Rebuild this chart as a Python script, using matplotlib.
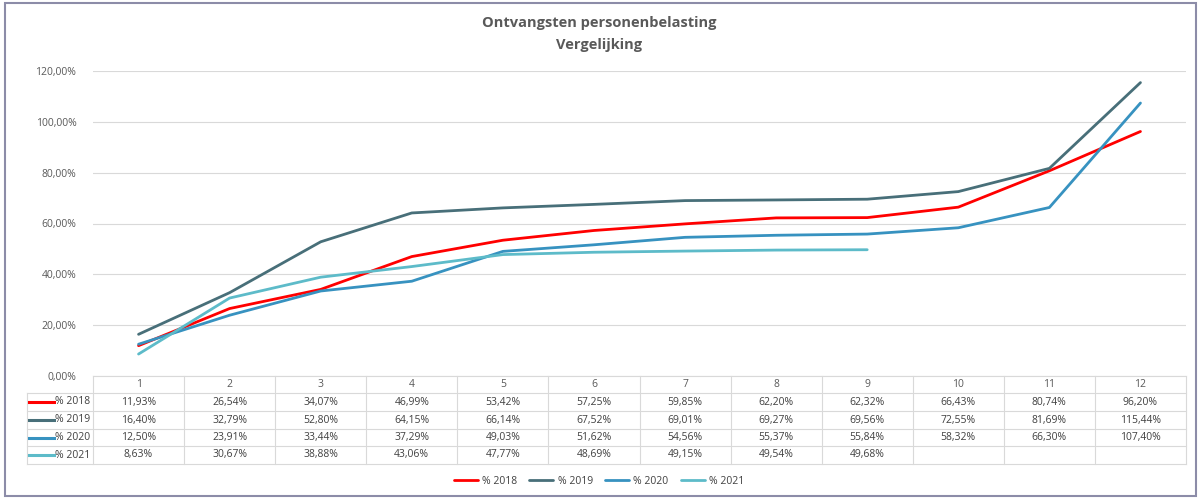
import matplotlib.pyplot as plt
import matplotlib.transforms as mtransforms
from matplotlib.patches import Rectangle
from matplotlib.ticker import FuncFormatter
from matplotlib.lines import Line2D

plt.rcParams['font.family'] = ['Open Sans', 'DejaVu Sans']

# data (percentages)
months = [1, 2, 3, 4, 5, 6, 7, 8, 9, 10, 11, 12]
pct_2018 = [11.93, 26.54, 34.07, 46.99, 53.42, 57.25, 59.85, 62.20, 62.32, 66.43, 80.74, 96.20]
pct_2019 = [16.40, 32.79, 52.80, 64.15, 66.14, 67.52, 69.01, 69.27, 69.56, 72.55, 81.69, 115.44]
pct_2020 = [12.50, 23.91, 33.44, 37.29, 49.03, 51.62, 54.56, 55.37, 55.84, 58.32, 66.30, 107.40]
pct_2021 = [8.63, 30.67, 38.88, 43.06, 47.77, 48.69, 49.15, 49.54, 49.68]
labels = ['% 2018', '% 2019', '% 2020', '% 2021']
colors = ['#FF0000', '#486F79', '#3792C0', '#5DBBC9']
series = [pct_2018, pct_2019, pct_2020, pct_2021]

W, H = 1198, 499
fig = plt.figure(figsize=(W / 100, H / 100), dpi=100)

# outer frame
fig.patches.append(Rectangle((5 / W, 3 / H), 1191 / W, 493 / H, transform=fig.transFigure,
                             fill=False, edgecolor='#8C8CA8', linewidth=1.5))

left, right, top, bottom = 93, 1186, 71, 376
ax = fig.add_axes([left / W, 1 - bottom / H, (right - left) / W, (bottom - top) / H])

for vals, lab, col in zip(series, labels, colors):
    ax.plot(months[:len(vals)], [v / 100 for v in vals], color=col, lw=2.0, label=lab,
            solid_capstyle='round')

ax.set_xlim(0.5, 12.5)
ax.set_ylim(0, 1.2)
ax.set_yticks([0, 0.2, 0.4, 0.6, 0.8, 1.0, 1.2])
ax.yaxis.set_major_formatter(FuncFormatter(lambda v, p: f'{v * 100:.2f}%'.replace('.', ',')))
ax.tick_params(axis='y', length=0, labelsize=7.5, labelcolor='#595959', pad=12)
ax.tick_params(axis='x', length=0, labelbottom=False)
ax.grid(axis='y', color='#D9D9D9', lw=0.8)
ax.set_axisbelow(True)
for s in ax.spines.values():
    s.set_visible(False)

# title
fig.text(0.5, 1 - 34 / H, 'Ontvangsten personenbelasting\nVergelijking', ha='center', va='center',
         fontsize=10.5, fontweight='bold', color='#595959', linespacing=1.75)

# data table below the axis
trans = mtransforms.blended_transform_factory(ax.transData, fig.transFigure)
row_edges = [376, 393, 411, 429, 446, 464]
gc = '#D9D9D9'
def fy(y):
    return 1 - y / H

# horizontal lines
ax.add_line(Line2D([0.5, 12.5], [fy(row_edges[0])] * 2, transform=trans, color=gc, lw=0.8, clip_on=False))
for y in row_edges[1:]:
    fig.add_artist(Line2D([27 / W, right / W], [fy(y)] * 2, color=gc, lw=0.8))
# vertical lines
for i in range(13):
    ax.add_line(Line2D([i + 0.5] * 2, [fy(row_edges[0]), fy(row_edges[-1])], transform=trans,
                       color=gc, lw=0.8, clip_on=False))
fig.add_artist(Line2D([27 / W] * 2, [fy(row_edges[1]), fy(row_edges[-1])], color=gc, lw=0.8))

for m in months:
    ax.text(m, fy((row_edges[0] + row_edges[1]) / 2), str(m), transform=trans, ha='center',
            va='center', fontsize=7.5, color='#595959')
for r, (vals, lab, col) in enumerate(zip(series, labels, colors)):
    yc = fy((row_edges[r + 1] + row_edges[r + 2]) / 2)
    for m, v in zip(months, vals):
        ax.text(m, yc, f'{v:.2f}%'.replace('.', ','), transform=trans, ha='center', va='center',
                fontsize=7.5, color='#404040')
    fig.add_artist(Line2D([29 / W, 54 / W], [yc, yc], color=col, lw=2.2))
    fig.text(55 / W, yc, lab, ha='left', va='center', fontsize=7.5, color='#404040')

# legend
leg = fig.legend(loc='center', bbox_to_anchor=(0.5, fy(481)), ncol=4, frameon=False,
                 fontsize=7.5, handlelength=2.3, columnspacing=1.2, handletextpad=0.4)
for t in leg.get_texts():
    t.set_color('#404040')

fig.savefig('out.png', dpi=100)
